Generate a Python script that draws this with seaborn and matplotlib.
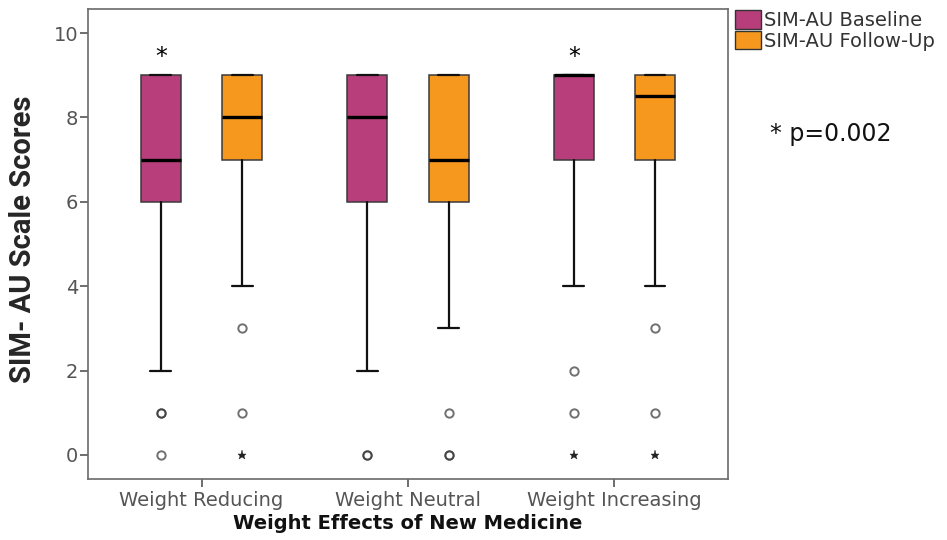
import matplotlib
matplotlib.use("Agg")
import matplotlib.pyplot as plt
import matplotlib.patches as mpatches
import seaborn as sns

# ---- data -------------------------------------------------------------
groups = ["Weight Reducing", "Weight Neutral", "Weight Increasing"]
series = ["SIM-AU Baseline", "SIM-AU Follow-Up"]

baseline_q1 = [6, 6, 7]
baseline_med = [7, 8, 9]
baseline_q3 = [9, 9, 9]
baseline_whislo = [2, 2, 4]
baseline_whishi = [9, 9, 9]
baseline_outliers = [[1, 1, 0], [0, 0], [2, 1]]
baseline_extremes = [[], [], [0]]

followup_q1 = [7, 6, 7]
followup_med = [8, 7, 8.5]
followup_q3 = [9, 9, 9]
followup_whislo = [4, 3, 4]
followup_whishi = [9, 9, 9]
followup_outliers = [[3, 1], [1, 0, 0], [3, 1]]
followup_extremes = [[0], [], [0]]

# groups with a significant baseline/follow-up difference
significant = [0, 2]
sig_label = "* p=0.002"

palette = ["#B83E7B", "#F7981E"]

# ---- style ------------------------------------------------------------
sns.set_theme(style="white")
plt.rcParams["font.family"] = ["DejaVu Sans"]

fig = plt.figure(figsize=(9.47, 5.40), dpi=100)
ax = fig.add_axes([0.0929, 0.1130, 0.6758, 0.8704])

offset = 0.197
box_w = 0.194

series_stats = [
    (baseline_q1, baseline_med, baseline_q3, baseline_whislo, baseline_whishi,
     baseline_outliers, baseline_extremes),
    (followup_q1, followup_med, followup_q3, followup_whislo, followup_whishi,
     followup_outliers, followup_extremes),
]

for s_idx, (q1, med, q3, wlo, whi, outl, extr) in enumerate(series_stats):
    shift = -offset if s_idx == 0 else offset
    stats = [dict(q1=q1[g], med=med[g], q3=q3[g], whislo=wlo[g], whishi=whi[g],
                  fliers=[]) for g in range(len(groups))]
    positions = [g + shift for g in range(len(groups))]
    ax.bxp(stats, positions=positions, widths=box_w, capwidths=box_w * 0.52,
           patch_artist=True, showfliers=False,
           boxprops=dict(facecolor=palette[s_idx], edgecolor="#3a3a3a", linewidth=1.1),
           medianprops=dict(color="black", linewidth=2.4, solid_capstyle="butt"),
           whiskerprops=dict(color="#111111", linewidth=1.6),
           capprops=dict(color="#111111", linewidth=1.6))
    for g in range(len(groups)):
        if outl[g]:
            ax.plot([g + shift] * len(outl[g]), outl[g], linestyle="none",
                    marker="o", markersize=6, markerfacecolor="none",
                    markeredgecolor="#333333", markeredgewidth=1.4, alpha=0.7)
        if extr[g]:
            ax.plot([g + shift] * len(extr[g]), extr[g], linestyle="none",
                    marker="*", markersize=6.5, color="#222222",
                    markeredgewidth=0.3)

for g in significant:
    ax.text(g - offset, 9.42, "*", ha="center", va="center",
            fontsize=17, color="black")

ax.set_xlim(-0.55, 2.55)
ax.set_ylim(-0.57, 10.57)
ax.set_xticks(range(len(groups)))
ax.set_xticklabels(groups)
ax.set_yticks([0, 2, 4, 6, 8, 10])

ax.tick_params(axis="x", direction="out", length=5.5, width=1.2, color="#555555",
               labelsize=14, labelcolor="#555555", pad=3, bottom=True)
ax.tick_params(axis="y", direction="out", length=6, width=1.2, color="#555555",
               labelsize=14, labelcolor="#555555", pad=1, left=True)
for sp in ax.spines.values():
    sp.set_visible(True)
    sp.set_color("#6a6a6a")
    sp.set_linewidth(1.2)

# axis titles
fig.text(0.024, 0.557, "SIM- AU Scale Scores", rotation=90, ha="center",
         va="center", fontsize=21, fontweight="bold",
         family=["Liberation Sans Narrow", "Roboto", "DejaVu Sans"])
fig.text(0.431, 0.030, "Weight Effects of New Medicine", ha="center",
         va="center", fontsize=14, fontweight="bold", color="#111111")

# significance note
fig.text(0.813, 0.752, sig_label, ha="left", va="center", fontsize=17,
         color="#111111")

handles = [mpatches.Patch(facecolor=palette[i], edgecolor="#333333",
                          linewidth=1.0, label=series[i]) for i in range(2)]
fig.legend(handles=handles, loc="upper left", bbox_to_anchor=(0.768, 0.995),
           frameon=False, fontsize=14, handlelength=1.35, handleheight=1.05,
           handletextpad=0.15, labelspacing=0.05, borderaxespad=0,
           labelcolor="#333333")

fig.savefig("out.png", dpi=100)
